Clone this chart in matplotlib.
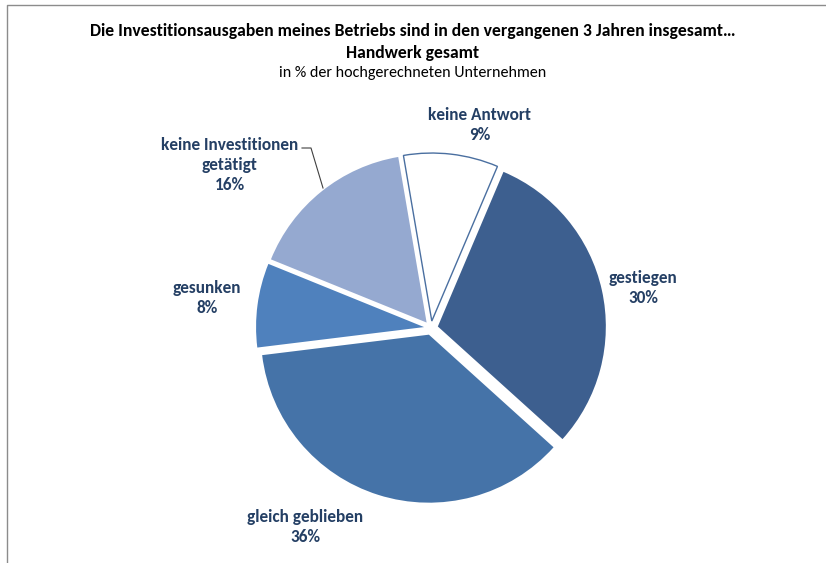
import matplotlib
matplotlib.use("Agg")
import matplotlib.pyplot as plt
from matplotlib.lines import Line2D
from matplotlib import font_manager

labels = ["gestiegen", "gleich geblieben", "gesunken", "keine Investitionen\ngetätigt", "keine Antwort"]
values = [30, 36, 8, 16, 9]
colors = ["#3D5F8F", "#4573A8", "#4F81BD", "#95A9D0", "#FFFFFF"]
title1 = "Die Investitionsausgaben meines Betriebs sind in den vergangenen 3 Jahren insgesamt…"
title2 = "Handwerk gesamt"
subtitle = "in % der hochgerechneten Unternehmen"

W, H = 826, 563
fig = plt.figure(figsize=(W / 100, H / 100), dpi=100)
ax = fig.add_axes([0, 0, 1, 1])

installed = {f.name for f in font_manager.fontManager.ttflist}
fam = None
for cand in ["Carlito", "Liberation Sans Narrow", "Roboto Condensed", "Open Sans Condensed", "Lato"]:
    if cand in installed:
        fam = cand
        break
fam = [fam or "DejaVu Sans", "DejaVu Sans"]
txtcol = "#243F64"

renderer = fig.canvas.get_renderer()


def fit_size(text, target_px, weight, base=12.0):
    t = fig.text(0, 0, text, fontsize=base, fontweight=weight, family=fam)
    w = t.get_window_extent(renderer).width
    t.remove()
    return base * target_px / w


cx, cy, r = 431, H - 328, 168
wedges, _ = ax.pie(values, colors=colors, startangle=67, counterclock=False,
                   center=(cx, cy), radius=r, explode=[7] * len(values),
                   wedgeprops=dict(linewidth=0), frame=True)
ax.set_xlim(0, W)
ax.set_ylim(0, H)
ax.set_aspect("equal")
ax.axis("off")
wedges[-1].set_edgecolor("#4A6FA0")
wedges[-1].set_linewidth(1.0)

lab_size = fit_size("keine Investitionen", 138, "bold")
label_pos = [(643, 288), (305, 527), (207, 298), (230, 165), (480, 125)]
for lab, v, (x, y) in zip(labels, values, label_pos):
    ax.text(x, H - y, f"{lab}\n{v}%", ha="center", va="center", fontsize=lab_size,
            fontweight="bold", color=txtcol, family=fam, linespacing=1.3)

# leader line for keine Investitionen
ax.add_line(Line2D([302, 311, 323], [H - 148, H - 148, H - 188], color="#404040", lw=0.8))

t_size = fit_size(title1, 645, "bold")
s_size = fit_size(subtitle, 265, "normal")
fig.text(0.5, 1 - 31 / H, title1, ha="center", va="center", fontsize=t_size,
         fontweight="bold", color="black", family=fam)
fig.text(0.5, 1 - 53 / H, title2, ha="center", va="center", fontsize=t_size,
         fontweight="bold", color="black", family=fam)
fig.text(0.5, 1 - 73 / H, subtitle, ha="center", va="center", fontsize=s_size,
         color="black", family=fam)

# chart area border (top and left)
ax.add_line(Line2D([7, 7, W], [0, H - 5, H - 5], color="#8C8C8C", lw=1.0))

fig.savefig("out.png", dpi=100)
